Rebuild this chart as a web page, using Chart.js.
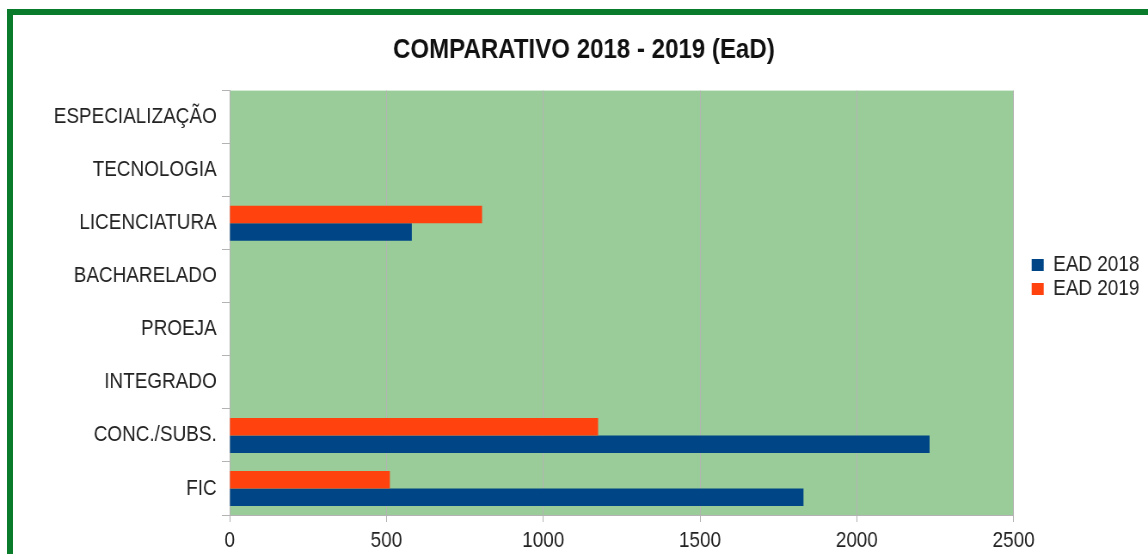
<!DOCTYPE html>
<html>
<head>
<meta charset="utf-8">
<script src="https://cdn.jsdelivr.net/npm/chart.js@4"></script>
<style>
  body { margin: 0; background: #fff; }
  #frame { position: absolute; left: 7px; top: 9px; width: 1200px; height: 600px; border: 6px solid #0a7a2b; }
  #chart { position: absolute; left: 0; top: 0; }
</style>
</head>
<body>
<div id="frame"></div>
<!-- drawn 1335 wide and squeezed to 1148 so the text looks condensed like the original -->
<canvas id="chart" width="1335" height="554" style="width:1148px;height:554px"></canvas>
<script>
const categories = ["ESPECIALIZAÇÃO", "TECNOLOGIA", "LICENCIATURA", "BACHARELADO", "PROEJA", "INTEGRADO", "CONC./SUBS.", "FIC"];
const ead2018 = [0, 0, 581, 0, 0, 0, 2232, 1830];
const ead2019 = [0, 0, 805, 0, 0, 0, 1175, 511];
const xTicks = [0, 500, 1000, 1500, 2000, 2500];

const font = "'Liberation Sans', Arial, sans-serif";

// green plot background
const plotBg = {
  id: 'plotBg',
  beforeDraw(chart) {
    const a = chart.chartArea;
    const ctx = chart.ctx;
    ctx.save();
    ctx.fillStyle = '#99cc99';
    ctx.fillRect(a.left, a.top, a.right - a.left, a.bottom - a.top);
    ctx.restore();
  }
};

let myChart = new Chart(document.querySelector("#chart"), {
  type: 'bar',
  data: {
    labels: categories,
    datasets: [
      { label: "EAD 2018", data: ead2018, backgroundColor: '#004586', order: 1 },
      { label: "EAD 2019", data: ead2019, backgroundColor: '#ff420e', order: 0 },
    ]
  },
  plugins: [plotBg],
  options: {
    indexAxis: 'y',
    responsive: false,
    devicePixelRatio: 1,
    animation: false,
    datasets: { bar: { barPercentage: 1, categoryPercentage: 0.66 } },
    layout: { padding: { left: 23, right: 0, top: 0, bottom: 0 } },
    scales: {
      x: {
        min: 0, max: 2500,
        afterBuildTicks(s) { s.ticks = xTicks.map(v => ({ value: v })); },
        afterFit(s) { s.height = 39; },
        grid: { color: '#b3b3b3', tickLength: 7 },
        border: { color: '#b3b3b3' },
        ticks: { color: '#222', padding: 6, font: { family: font, size: 22 }, callback: v => String(v) }
      },
      y: {
        afterFit(s) { s.width = 244; },
        grid: { drawOnChartArea: false, color: '#b3b3b3', tickLength: 9 },
        border: { color: '#b3b3b3' },
        ticks: { color: '#222', padding: 6, font: { family: font, size: 22 } }
      },
      gap: {
        type: 'linear', position: 'right', display: true,
        grid: { display: false }, border: { display: false }, ticks: { display: false },
        afterFit(s) { s.width = 19; }
      }
    },
    plugins: {
      title: {
        display: true,
        text: "COMPARATIVO 2018 - 2019 (EaD)",
        color: '#111',
        font: { family: font, size: 28, weight: 'bold' },
        padding: { top: 33, bottom: 24 }
      },
      legend: {
        position: 'right',
        labels: {
          boxWidth: 14, boxHeight: 12, padding: 2, color: '#222',
          font: { family: font, size: 22 },
          sort: (a, b) => a.datasetIndex - b.datasetIndex
        }
      },
      tooltip: { enabled: false }
    }
  }
});
</script>
</body>
</html>
